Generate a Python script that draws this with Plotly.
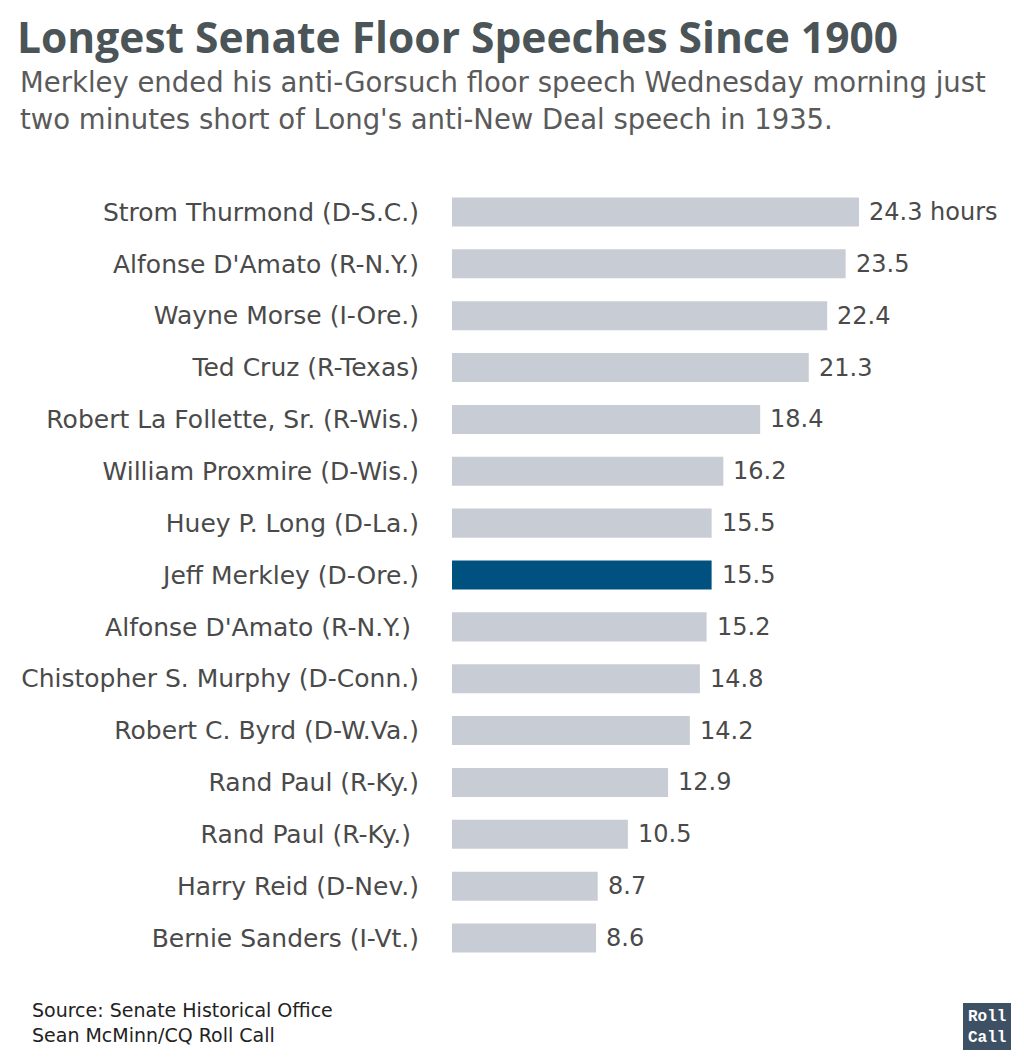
import plotly.graph_objects as go

senators = [
    "Strom Thurmond (D-S.C.)",
    "Alfonse D'Amato (R-N.Y.)",
    "Wayne Morse (I-Ore.)",
    "Ted Cruz (R-Texas)",
    "Robert La Follette, Sr. (R-Wis.)",
    "William Proxmire (D-Wis.)",
    "Huey P. Long (D-La.)",
    "Jeff Merkley (D-Ore.)",
    "Alfonse D'Amato (R-N.Y.) ",
    "Chistopher S. Murphy (D-Conn.)",
    "Robert C. Byrd (D-W.Va.)",
    "Rand Paul (R-Ky.)",
    "Rand Paul (R-Ky.) ",
    "Harry Reid (D-Nev.)",
    "Bernie Sanders (I-Vt.)",
]
hours = [24.3, 23.5, 22.4, 21.3, 18.4, 16.2, 15.5, 15.5, 15.2, 14.8, 14.2, 12.9, 10.5, 8.7, 8.6]
highlight = "Jeff Merkley (D-Ore.)"

GREY = "#c8ccd4"
BLUE = "#00517f"
colors = [BLUE if s == highlight else GREY for s in senators]

FONT = "DejaVu Sans"
TFONT = "Open Sans"
W, H = 1024, 1060
ML, MT, MB = 452, 186, 96
PW, PH = W - ML, H - MT - MB

def px(x):
    return (x - ML) / PW

def py(y):
    return (H - MB - y) / PH

fig = go.Figure()
fig.add_trace(go.Bar(
    x=hours, y=senators, orientation="h",
    marker=dict(color=colors, line=dict(width=0)),
    hoverinfo="x+y",
))

for i, (s, v) in enumerate(zip(senators, hours)):
    fig.add_annotation(
        x=v, y=s, xref="x", yref="y",
        text=f"{v} hours" if i == 0 else f"{v}",
        showarrow=False, xanchor="left", xshift=8,
        font=dict(family=FONT, size=24, color="#4a4a4a"),
    )

fig.update_layout(
    width=W, height=H,
    paper_bgcolor="white", plot_bgcolor="white",
    margin=dict(l=ML, r=0, t=MT, b=MB),
    bargap=0.44,
    showlegend=False,
    xaxis=dict(range=[0, 34.15], visible=False, fixedrange=True),
    yaxis=dict(
        autorange="reversed", showgrid=False, zeroline=False, showline=False,
        ticks="", ticklabelstandoff=32,
        tickfont=dict(family=FONT, size=25, color="#4a4a4a"),
    ),
    font=dict(family=FONT),
)

fig.add_annotation(
    xref="paper", yref="paper", x=px(15), y=py(36),
    xanchor="left", yanchor="middle",
    text="<b>Longest Senate Floor Speeches Since 1900</b>",
    showarrow=False, font=dict(family=TFONT, size=42.5, color="#4b5457"),
)
sub_lines = [
    "Merkley ended his anti-Gorsuch floor speech Wednesday morning just",
    "two minutes short of Long's anti-New Deal speech in 1935.",
]
for line, yy in zip(sub_lines, [82, 119]):
    fig.add_annotation(
        xref="paper", yref="paper", x=px(18), y=py(yy),
        xanchor="left", yanchor="middle", align="left",
        text=line, showarrow=False,
        font=dict(family=FONT, size=27.5, color="#5a5a5a"),
    )
fig.add_annotation(
    xref="paper", yref="paper", x=px(30), y=py(1023),
    xanchor="left", yanchor="middle", align="left",
    text="Source: Senate Historical Office<br>Sean McMinn/CQ Roll Call",
    showarrow=False, font=dict(family=FONT, size=19, color="#222222"),
)
# Roll Call logo
fig.add_shape(
    type="rect", xref="paper", yref="paper",
    x0=px(963), x1=px(1011), y0=py(1050), y1=py(1003),
    fillcolor="#3e5064", line=dict(width=0),
)
fig.add_annotation(
    xref="paper", yref="paper", x=px(987), y=py(1027),
    xanchor="center", yanchor="middle", align="center",
    text="<b>Roll<br>Call</b>", showarrow=False,
    font=dict(family="Liberation Mono", size=16, color="white"),
)

fig.write_html("out.html", config={"displayModeBar": False},
               post_script="document.body.style.margin='0';")
